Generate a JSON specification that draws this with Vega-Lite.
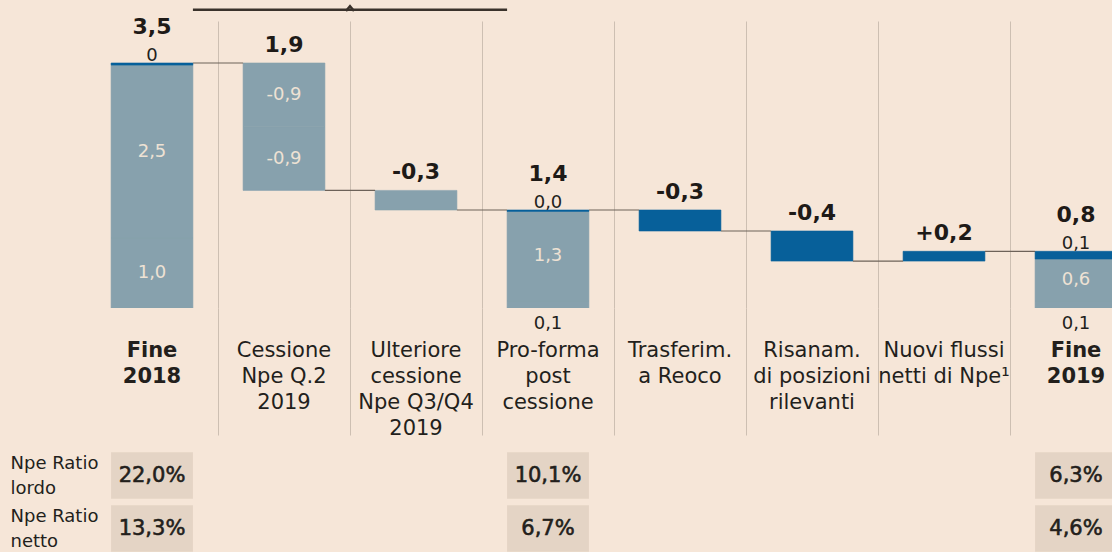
{
  "$schema": "https://vega.github.io/schema/vega-lite/v6.json",
  "background": "#f6e6d8",
  "padding": {"left": 10, "top": 1, "right": 0, "bottom": 0},
  "autosize": {"type": "pad"},
  "bounds": "flush",
  "spacing": 141,
  "config": {"view": {"stroke": null}, "font": "DejaVu Sans"},
  "datasets": {
    "segs": [
      {"cat": "Fine|2018", "kind": "Sofferenze", "start": 0, "end": 1.0, "label": "1,0"},
      {"cat": "Fine|2018", "kind": "Inadempienze probabili", "start": 1.0, "end": 3.47, "label": "2,5"},
      {"cat": "Fine|2018", "kind": "Scaduti", "start": 3.47, "end": 3.5, "label": "0"},
      {"cat": "Cessione|Npe Q.2|2019", "kind": "Cessioni", "start": 3.5, "end": 2.59, "label": "-0,9"},
      {"cat": "Cessione|Npe Q.2|2019", "kind": "Cessioni", "start": 2.59, "end": 1.68, "label": "-0,9"},
      {"cat": "Ulteriore|cessione|Npe Q3/Q4|2019", "kind": "Cessioni", "start": 1.68, "end": 1.4, "label": ""},
      {"cat": "Pro-forma|post|cessione", "kind": "Sofferenze", "start": 0, "end": 0.1, "label": "0,1"},
      {"cat": "Pro-forma|post|cessione", "kind": "Inadempienze probabili", "start": 0.1, "end": 1.38, "label": "1,3"},
      {"cat": "Pro-forma|post|cessione", "kind": "Scaduti", "start": 1.38, "end": 1.4, "label": "0,0"},
      {"cat": "Trasferim.|a Reoco", "kind": "Altre variazioni", "start": 1.4, "end": 1.1, "label": ""},
      {"cat": "Risanam.|di posizioni|rilevanti", "kind": "Altre variazioni", "start": 1.1, "end": 0.67, "label": ""},
      {"cat": "Nuovi flussi|netti di Npe¹", "kind": "Altre variazioni", "start": 0.67, "end": 0.81, "label": ""},
      {"cat": "Fine|2019", "kind": "Sofferenze", "start": 0, "end": 0.1, "label": "0,1"},
      {"cat": "Fine|2019", "kind": "Inadempienze probabili", "start": 0.1, "end": 0.7, "label": "0,6"},
      {"cat": "Fine|2019", "kind": "Scaduti", "start": 0.7, "end": 0.81, "label": "0,1"}
    ],
    "tops": [
      {"cat": "Fine|2018", "top": 3.5, "label": "3,5", "type": "totale"},
      {"cat": "Cessione|Npe Q.2|2019", "top": 3.5, "label": "1,9", "type": "variazione"},
      {"cat": "Ulteriore|cessione|Npe Q3/Q4|2019", "top": 1.68, "label": "-0,3", "type": "variazione"},
      {"cat": "Pro-forma|post|cessione", "top": 1.4, "label": "1,4", "type": "totale"},
      {"cat": "Trasferim.|a Reoco", "top": 1.4, "label": "-0,3", "type": "variazione"},
      {"cat": "Risanam.|di posizioni|rilevanti", "top": 1.1, "label": "-0,4", "type": "variazione"},
      {"cat": "Nuovi flussi|netti di Npe¹", "top": 0.81, "label": "+0,2", "type": "variazione"},
      {"cat": "Fine|2019", "top": 0.81, "label": "0,8", "type": "totale"}
    ],
    "links": [
      {"cat": "Fine|2018", "next": "Cessione|Npe Q.2|2019", "level": 3.5},
      {"cat": "Cessione|Npe Q.2|2019", "next": "Ulteriore|cessione|Npe Q3/Q4|2019", "level": 1.68},
      {"cat": "Ulteriore|cessione|Npe Q3/Q4|2019", "next": "Pro-forma|post|cessione", "level": 1.4},
      {"cat": "Pro-forma|post|cessione", "next": "Trasferim.|a Reoco", "level": 1.4},
      {"cat": "Trasferim.|a Reoco", "next": "Risanam.|di posizioni|rilevanti", "level": 1.1},
      {"cat": "Risanam.|di posizioni|rilevanti", "next": "Nuovi flussi|netti di Npe¹", "level": 0.67},
      {"cat": "Nuovi flussi|netti di Npe¹", "next": "Fine|2019", "level": 0.81}
    ],
    "annotations": [
      {"from": "Fine|2018", "to": "Pro-forma|post|cessione", "apex": "Ulteriore|cessione|Npe Q3/Q4|2019", "level": 4.26}
    ],
    "ratios": [
      {"cat": "Fine|2018", "row": "Npe Ratio|lordo", "value": "22,0%"},
      {"cat": "Fine|2018", "row": "Npe Ratio|netto", "value": "13,3%"},
      {"cat": "Pro-forma|post|cessione", "row": "Npe Ratio|lordo", "value": "10,1%"},
      {"cat": "Pro-forma|post|cessione", "row": "Npe Ratio|netto", "value": "6,7%"},
      {"cat": "Fine|2019", "row": "Npe Ratio|lordo", "value": "6,3%"},
      {"cat": "Fine|2019", "row": "Npe Ratio|netto", "value": "4,6%"}
    ]
  },
  "vconcat": [
    {
      "width": 1026,
      "height": 287,
      "layer": [
        {
          "data": {"name": "segs"},
          "mark": {"type": "bar", "clip": true, "width": {"band": 0.62}, "strokeWidth": 0.6},
          "encoding": {
            "x": {
              "field": "cat", "type": "nominal",
              "scale": {"domain": ["Fine|2018", "Cessione|Npe Q.2|2019", "Ulteriore|cessione|Npe Q3/Q4|2019", "Pro-forma|post|cessione", "Trasferim.|a Reoco", "Risanam.|di posizioni|rilevanti", "Nuovi flussi|netti di Npe¹", "Fine|2019"], "range": [0, 1056], "paddingInner": 0, "paddingOuter": 0},
              "axis": {
                "title": null, "domain": false, "bandPosition": 0,
                "grid": true,
                "gridColor": {"condition": {"test": "datum.value === 'Fine|2018'", "value": "rgba(0,0,0,0)"}, "value": "#cdbfb2"},
                "gridWidth": 1,
                "ticks": true, "tickSize": 127, "tickWidth": 1,
                "tickColor": {"condition": {"test": "datum.value === 'Fine|2018'", "value": "rgba(0,0,0,0)"}, "value": "#cdbfb2"},
                "labelPadding": -96, "labelAngle": 0, "labelAlign": "center", "labelBaseline": "top",
                "labelFont": "DejaVu Sans", "labelFontSize": 21, "labelColor": "#231f1c", "labelLineHeight": 26,
                "labelExpr": "split(datum.label, '|')",
                "labelFontWeight": {"condition": {"test": "indexof(datum.value, 'Fine') === 0", "value": "bold"}, "value": "normal"},
                "labelLimit": 300, "labelOverlap": false
              }
            },
            "y": {"field": "start", "type": "quantitative", "scale": {"domain": [0, 4.1], "nice": false, "zero": true}, "axis": null},
            "y2": {"field": "end"},
            "color": {
              "field": "kind", "type": "nominal",
              "scale": {"domain": ["Sofferenze", "Inadempienze probabili", "Scaduti", "Cessioni", "Altre variazioni"], "range": ["#87a1ad", "#87a1ad", "#07609a", "#87a1ad", "#07609a"]},
              "legend": null
            },
            "stroke": {
              "field": "kind", "type": "nominal",
              "scale": {"domain": ["Sofferenze", "Inadempienze probabili", "Scaduti", "Cessioni", "Altre variazioni"], "range": ["#87a1ad", "#87a1ad", "#07609a", "#87a1ad", "#07609a"]},
              "legend": null
            }
          }
        },
        {
          "data": {"name": "links"},
          "mark": {"type": "rule", "color": "#6d6259", "strokeWidth": 1.2},
          "encoding": {
            "x": {"field": "cat", "type": "nominal", "bandPosition": 0.81, "scale": {"domain": ["Fine|2018", "Cessione|Npe Q.2|2019", "Ulteriore|cessione|Npe Q3/Q4|2019", "Pro-forma|post|cessione", "Trasferim.|a Reoco", "Risanam.|di posizioni|rilevanti", "Nuovi flussi|netti di Npe¹", "Fine|2019"], "range": [0, 1056], "paddingInner": 0, "paddingOuter": 0}},
            "x2": {"field": "next", "bandPosition": 0.19},
            "y": {"field": "level", "type": "quantitative", "scale": {"domain": [0, 4.1], "nice": false, "zero": true}}
          }
        },
        {
          "data": {"name": "annotations"},
          "mark": {"type": "rule", "color": "#3a322b", "strokeWidth": 2.5},
          "encoding": {
            "x": {"field": "from", "type": "nominal", "bandPosition": 0.81, "scale": {"domain": ["Fine|2018", "Cessione|Npe Q.2|2019", "Ulteriore|cessione|Npe Q3/Q4|2019", "Pro-forma|post|cessione", "Trasferim.|a Reoco", "Risanam.|di posizioni|rilevanti", "Nuovi flussi|netti di Npe¹", "Fine|2019"], "range": [0, 1056], "paddingInner": 0, "paddingOuter": 0}},
            "x2": {"field": "to", "bandPosition": 0.19},
            "y": {"field": "level", "type": "quantitative", "scale": {"domain": [0, 4.1], "nice": false, "zero": true}}
          }
        },
        {
          "data": {"name": "annotations"},
          "mark": {"type": "point", "shape": "M-1,0.3L0,-0.9L1,0.3", "filled": false, "stroke": "#3a322b", "strokeWidth": 2.5, "size": 64, "opacity": 1},
          "encoding": {
            "x": {"field": "apex", "type": "nominal", "bandPosition": 0, "scale": {"domain": ["Fine|2018", "Cessione|Npe Q.2|2019", "Ulteriore|cessione|Npe Q3/Q4|2019", "Pro-forma|post|cessione", "Trasferim.|a Reoco", "Risanam.|di posizioni|rilevanti", "Nuovi flussi|netti di Npe¹", "Fine|2019"], "range": [0, 1056], "paddingInner": 0, "paddingOuter": 0}},
            "y": {"field": "level", "type": "quantitative", "scale": {"domain": [0, 4.1], "nice": false, "zero": true}}
          }
        },
        {
          "data": {"name": "segs"},
          "transform": [
            {"filter": "datum.label !== '' && datum.kind !== 'Scaduti' && abs(datum.end - datum.start) > 0.3"},
            {"calculate": "(datum.start + datum.end) / 2", "as": "mid"}
          ],
          "mark": {"type": "text", "font": "DejaVu Sans", "fontSize": 18, "color": "#eee2d4", "baseline": "middle"},
          "encoding": {
            "x": {"field": "cat", "type": "nominal", "scale": {"domain": ["Fine|2018", "Cessione|Npe Q.2|2019", "Ulteriore|cessione|Npe Q3/Q4|2019", "Pro-forma|post|cessione", "Trasferim.|a Reoco", "Risanam.|di posizioni|rilevanti", "Nuovi flussi|netti di Npe¹", "Fine|2019"], "range": [0, 1056], "paddingInner": 0, "paddingOuter": 0}},
            "y": {"field": "mid", "type": "quantitative", "scale": {"domain": [0, 4.1], "nice": false, "zero": true}},
            "text": {"field": "label"}
          }
        },
        {
          "data": {"name": "segs"},
          "transform": [{"filter": "datum.kind === 'Scaduti'"}],
          "mark": {"type": "text", "font": "DejaVu Sans", "fontSize": 18, "color": "#231f1c", "baseline": "alphabetic", "dy": -2},
          "encoding": {
            "x": {"field": "cat", "type": "nominal", "scale": {"domain": ["Fine|2018", "Cessione|Npe Q.2|2019", "Ulteriore|cessione|Npe Q3/Q4|2019", "Pro-forma|post|cessione", "Trasferim.|a Reoco", "Risanam.|di posizioni|rilevanti", "Nuovi flussi|netti di Npe¹", "Fine|2019"], "range": [0, 1056], "paddingInner": 0, "paddingOuter": 0}},
            "y": {"field": "end", "type": "quantitative", "scale": {"domain": [0, 4.1], "nice": false, "zero": true}},
            "text": {"field": "label"}
          }
        },
        {
          "data": {"name": "segs"},
          "transform": [{"filter": "datum.kind === 'Sofferenze' && abs(datum.end - datum.start) <= 0.3"}],
          "mark": {"type": "text", "font": "DejaVu Sans", "fontSize": 18, "color": "#231f1c", "baseline": "middle", "dy": 16},
          "encoding": {
            "x": {"field": "cat", "type": "nominal", "scale": {"domain": ["Fine|2018", "Cessione|Npe Q.2|2019", "Ulteriore|cessione|Npe Q3/Q4|2019", "Pro-forma|post|cessione", "Trasferim.|a Reoco", "Risanam.|di posizioni|rilevanti", "Nuovi flussi|netti di Npe¹", "Fine|2019"], "range": [0, 1056], "paddingInner": 0, "paddingOuter": 0}},
            "y": {"field": "start", "type": "quantitative", "scale": {"domain": [0, 4.1], "nice": false, "zero": true}},
            "text": {"field": "label"}
          }
        },
        {
          "data": {"name": "tops"},
          "transform": [{"filter": "datum.type === 'variazione'"}],
          "mark": {"type": "text", "font": "DejaVu Sans", "fontSize": 22, "fontWeight": "bold", "color": "#1e1a17", "baseline": "middle", "dy": -18},
          "encoding": {
            "x": {"field": "cat", "type": "nominal", "scale": {"domain": ["Fine|2018", "Cessione|Npe Q.2|2019", "Ulteriore|cessione|Npe Q3/Q4|2019", "Pro-forma|post|cessione", "Trasferim.|a Reoco", "Risanam.|di posizioni|rilevanti", "Nuovi flussi|netti di Npe¹", "Fine|2019"], "range": [0, 1056], "paddingInner": 0, "paddingOuter": 0}},
            "y": {"field": "top", "type": "quantitative", "scale": {"domain": [0, 4.1], "nice": false, "zero": true}},
            "text": {"field": "label"}
          }
        },
        {
          "data": {"name": "tops"},
          "transform": [{"filter": "datum.type === 'totale'"}],
          "mark": {"type": "text", "font": "DejaVu Sans", "fontSize": 22, "fontWeight": "bold", "color": "#1e1a17", "baseline": "middle", "dy": -36},
          "encoding": {
            "x": {"field": "cat", "type": "nominal", "scale": {"domain": ["Fine|2018", "Cessione|Npe Q.2|2019", "Ulteriore|cessione|Npe Q3/Q4|2019", "Pro-forma|post|cessione", "Trasferim.|a Reoco", "Risanam.|di posizioni|rilevanti", "Nuovi flussi|netti di Npe¹", "Fine|2019"], "range": [0, 1056], "paddingInner": 0, "paddingOuter": 0}},
            "y": {"field": "top", "type": "quantitative", "scale": {"domain": [0, 4.1], "nice": false, "zero": true}},
            "text": {"field": "label"}
          }
        }
      ]
    },
    {
      "width": 1026,
      "height": 106,
      "data": {"name": "ratios"},
      "encoding": {
        "x": {"field": "cat", "type": "nominal", "scale": {"domain": ["Fine|2018", "Cessione|Npe Q.2|2019", "Ulteriore|cessione|Npe Q3/Q4|2019", "Pro-forma|post|cessione", "Trasferim.|a Reoco", "Risanam.|di posizioni|rilevanti", "Nuovi flussi|netti di Npe¹", "Fine|2019"], "range": [0, 1056], "paddingInner": 0, "paddingOuter": 0}, "axis": null},
        "y": {
          "field": "row", "type": "nominal",
          "scale": {"domain": ["Npe Ratio|lordo", "Npe Ratio|netto"], "paddingInner": 0.12, "paddingOuter": 0.06},
          "axis": {
            "title": null, "domain": false, "ticks": false, "tickSize": 0,
            "labelAlign": "left", "labelPadding": 76, "labelBaseline": "middle", "labelOffset": -12,
            "labelFont": "DejaVu Sans", "labelFontSize": 18, "labelColor": "#231f1c", "labelLineHeight": 25,
            "labelExpr": "split(datum.label, '|')", "labelLimit": 200
          }
        }
      },
      "layer": [
        {"mark": {"type": "bar", "clip": true, "width": {"band": 0.62}, "height": {"band": 1}, "color": "#e4d4c5"}},
        {"mark": {"type": "text", "font": "DejaVu Sans", "fontSize": 21, "color": "#231f1c", "stroke": "#231f1c", "strokeWidth": 0.6, "baseline": "middle"}, "encoding": {"text": {"field": "value"}}}
      ]
    }
  ]
}
